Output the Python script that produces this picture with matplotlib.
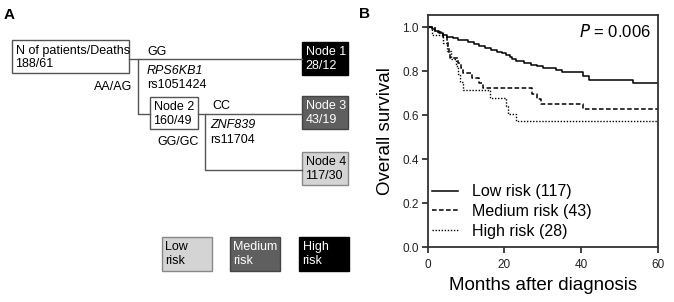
# -*- coding: utf-8 -*-

import matplotlib.pyplot as plt
from matplotlib.patches import Rectangle

plt.rcParams['font.family'] = ['Liberation Sans', 'DejaVu Sans']

# ---------------- data ---------------- #

low_months = [0, 1, 2, 3, 4, 5, 6.5, 8, 10.5, 12, 13.5, 15, 16.5, 18, 19.5,
              20.5, 21.5, 22, 23, 25, 27, 28.5, 30, 33.5, 35, 40.5, 42, 53.5, 60]
low_surv = [1.0, .991, .983, .974, .966, .957, .949, .940, .932, .923, .915,
            .906, .897, .889, .880, .872, .863, .855, .846, .838, .829, .821,
            .812, .804, .795, .778, .761, .747, .747]

medium_months = [0, 2, 4, 5, 5.3, 5.6, 5.9, 8, 8.6, 9.3, 11.5, 13.5, 14.5,
                 27.3, 28.5, 29.5, 40.5, 60]
medium_surv = [1.0, .977, .953, .930, .907, .884, .860, .837, .814, .791,
               .767, .744, .721, .698, .674, .651, .628, .628]

high_months = [0, 1, 4, 5, 6, 7.5, 8, 8.5, 9.3, 16.3, 20.3, 21, 23, 60]
high_surv = [1.0, .964, .929, .893, .857, .821, .786, .750, .714, .679, .643,
             .607, .571, .571]

curve_labels = ['Low risk (117)', 'Medium risk (43)', 'High risk (28)']
p_text = '= 0.006'

root_lines = ['N of patients/Deaths', '188/61']
node2_lines = ['Node 2', '160/49']
leaf_names = ['Node 1', 'Node 3', 'Node 4']
leaf_counts = ['28/12', '43/19', '117/30']
risk_names = ['Low', 'Medium', 'High']

gray_light = '#d4d4d4'
gray_dark = '#5f5f5f'
line_col = '#555555'


def box(ax, x0, y0, x1, y1, face, edge, lines, tcolor, ys):
    ax.add_patch(Rectangle((x0, y0), x1 - x0, y1 - y0, facecolor=face,
                           edgecolor=edge, lw=1.0))
    for txt, y in zip(lines, ys):
        ax.text(x0 + 3.5, y, txt, color=tcolor, fontsize=9, va='center', ha='left')


fig = plt.figure(figsize=(6.74, 3.02), dpi=100)

# ---------------- panel A (pixel coordinates) ---------------- #
axA = fig.add_axes([0, 0, 1, 1])
axA.set_xlim(0, 674)
axA.set_ylim(302, 0)
axA.axis('off')

axA.text(4, 15, 'A', fontsize=11, fontweight='bold', va='center')
axA.text(359, 14, 'B', fontsize=11, fontweight='bold', va='center')

box(axA, 12, 40, 129, 73, 'white', line_col, root_lines, 'black', [51, 64])
box(axA, 150, 97, 198, 129, 'white', line_col, node2_lines, 'black', [106.5, 120.5])

# tree lines
axA.plot([129, 302], [59.3, 59.3], color=line_col, lw=1)
axA.plot([138.3, 138.3, 150], [59.3, 113.5, 113.5], color=line_col, lw=1)
axA.plot([198, 302], [113.5, 113.5], color=line_col, lw=1)
axA.plot([205, 205, 302], [113.5, 170, 170], color=line_col, lw=1)

axA.text(147, 52, 'GG', fontsize=9, va='center')
axA.text(147, 70.5, 'RPS6KB1', fontsize=9, va='center', style='italic')
axA.text(147, 85, 'rs1051424', fontsize=9, va='center')
axA.text(132, 87, 'AA/AG', fontsize=9, va='center', ha='right')
axA.text(212, 106, 'CC', fontsize=9, va='center')
axA.text(210, 125, 'ZNF839', fontsize=9, va='center', style='italic')
axA.text(210, 140, 'rs11704', fontsize=9, va='center')
axA.text(157, 142, 'GG/GC', fontsize=9, va='center')

leaf_faces = ['black', gray_dark, gray_light]
leaf_edges = ['black', '#444444', '#888888']
leaf_text = ['white', 'white', 'black']
leaf_tops = [42, 96, 152]
for name, cnt, fc, ec, tc, top in zip(leaf_names, leaf_counts, leaf_faces,
                                       leaf_edges, leaf_text, leaf_tops):
    box(axA, 302, top, 348, top + 33, fc, ec, [name, cnt], tc,
        [top + 10.2, top + 24.2])

risk_faces = [gray_light, gray_dark, 'black']
risk_edges = ['#888888', '#444444', 'black']
risk_text = ['black', 'white', 'white']
risk_left = [161.7, 230, 299]
for name, fc, ec, tc, x0 in zip(risk_names, risk_faces, risk_edges,
                                risk_text, risk_left):
    box(axA, x0, 236.7, x0 + 50, 271, fc, ec, [name, 'risk'], tc, [247, 261])

# ---------------- panel B (survival curves) ---------------- #
ax = fig.add_axes([427.7 / 674, 55 / 302, 230 / 674, 232 / 302])
ax.step(low_months, low_surv, where='post', color='black', lw=1.1,
        label=curve_labels[0])
ax.step(medium_months, medium_surv, where='post', color='black', lw=1.1,
        ls=(0, (3, 1.6)), label=curve_labels[1])
ax.step(high_months, high_surv, where='post', color='black', lw=1.0,
        ls=(0, (1, 1.2)), label=curve_labels[2])

ax.set_xlim(0, 60)
ax.set_ylim(0, 1.055)
ax.set_xticks([0, 20, 40, 60])
ax.set_yticks([0, 0.2, 0.4, 0.6, 0.8, 1.0])
ax.set_yticklabels(['0.0', '0.2', '0.4', '0.6', '0.8', '1.0'])
ax.tick_params(direction='out', length=4.3, width=1.2, labelsize=8.5,
               colors='#222222', pad=2)
ax.tick_params(axis='x', pad=4)
for s in ax.spines.values():
    s.set_linewidth(1.3)
    s.set_color('#333333')

ax.set_xlabel('Months after diagnosis', fontsize=13.5, labelpad=5)
ax.set_ylabel('Overall survival', fontsize=13.5, labelpad=6)

ax.text(0.97, 0.93, r'$\it{P}$ ' + p_text, transform=ax.transAxes,
        ha='right', va='center', fontsize=12)

ax.legend(loc='lower left', bbox_to_anchor=(0.02, 0.035), frameon=False,
          fontsize=11.5, handlelength=1.6, handletextpad=0.9,
          labelspacing=0.3, borderpad=0, borderaxespad=0)

fig.savefig('out.png', dpi=100)
